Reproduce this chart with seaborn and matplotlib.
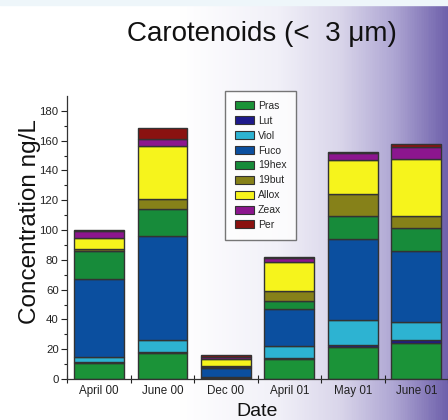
import numpy as np
import pandas as pd
import matplotlib
matplotlib.use("Agg")
import matplotlib.pyplot as plt
import seaborn as sns
from matplotlib.patches import Patch
from matplotlib.colors import LinearSegmentedColormap

dates = ["April 00", "June 00", "Dec 00", "April 01", "May 01", "June 01"]
pigments = ["Pras", "Lut", "Viol", "Fuco", "19hex", "19but", "Allox", "Zeax", "Per"]
colors = ["#1b9338", "#1e1a8c", "#2db3d2", "#0b4f9f", "#178b3a", "#868119",
          "#f6f41c", "#8c168e", "#8a1210"]

pras  = [10.5, 17.2, 0.5, 13.2, 21.7, 24.0]
lut   = [1.0, 1.0, 0.3, 1.0, 1.0, 2.5]
viol  = [3.0, 8.0, 0.3, 8.0, 17.0, 12.0]
fuco  = [52.5, 70.0, 6.2, 25.0, 54.0, 47.5]
hex19 = [19.0, 18.0, 1.0, 5.0, 16.0, 15.5]
but19 = [1.0, 6.5, 0.5, 7.0, 14.5, 8.0]
allox = [7.5, 35.5, 4.5, 19.0, 23.0, 38.5]
zeax  = [5.0, 5.0, 1.5, 3.0, 4.5, 8.0]
per   = [0.5, 7.0, 1.0, 0.5, 1.0, 2.0]

series = [pras, lut, viol, fuco, hex19, but19, allox, zeax, per]
rows = []
for p, vals in zip(pigments, series):
    for d, v in zip(dates, vals):
        rows.append({"Date": d, "Pigment": p, "Value": v})
df = pd.DataFrame(rows)

sns.set_style("ticks")
plt.rcParams["font.family"] = ["Liberation Sans", "DejaVu Sans"]

fig = plt.figure(figsize=(4.48, 4.20), dpi=100)

# background gradient
bg = fig.add_axes([0, 0, 1, 1], zorder=-10)
cmap = LinearSegmentedColormap.from_list(
    "bg", [(0.0, "#ffffff"), (0.4, "#ffffff"), (0.62, "#f1f0f8"),
           (0.76, "#d9d5ea"), (0.88, "#aea6d3"), (1.0, "#6e60ab")])
grad = np.linspace(0, 1, 448).reshape(1, -1)
bg.imshow(grad, aspect="auto", cmap=cmap, extent=[0, 1, 0, 1])
bg.axhspan(0.988, 1.0, color="#eef6fa", zorder=5)
bg.set_xlim(0, 1)
bg.set_ylim(0, 1)
bg.axis("off")

ax = fig.add_axes([0.1496, 0.0976, 0.8504, 0.674])
ax.set_facecolor("none")

sns.histplot(data=df, x="Date", hue="Pigment", weights="Value",
             hue_order=pigments[::-1], palette=dict(zip(pigments, colors)),
             multiple="stack", discrete=True, shrink=0.78, alpha=1,
             edgecolor="#333333", linewidth=1.0, legend=False, ax=ax)

ax.set_xlim(-0.5, 5.42)
ax.set_ylim(0, 190)
ax.set_yticks(np.arange(0, 181, 20))
ax.set_yticks(np.arange(0, 190, 10), minor=True)
ax.tick_params(axis="y", which="major", direction="out", length=4, width=0.8,
               labelsize=8.2, colors="#222222", pad=2)
ax.tick_params(axis="y", which="minor", direction="out", length=2.5, width=0.8,
               colors="#222222")
ax.set_xticks(range(len(dates)))
ax.set_xticklabels(dates)
ax.set_xticks(np.arange(-0.5, 6, 1), minor=True)
ax.tick_params(axis="x", which="major", length=0, labelsize=8.4, pad=4,
               colors="#222222")
ax.tick_params(axis="x", which="minor", direction="inout", length=6, width=0.8,
               colors="#222222")
for s in ["top", "right"]:
    ax.spines[s].set_visible(False)
for s in ["left", "bottom"]:
    ax.spines[s].set_color("#333333")
    ax.spines[s].set_linewidth(0.9)

ax.set_ylabel("Concentration ng/L", fontsize=17.5, color="#111111")
ax.yaxis.set_label_coords(-0.068, 0.555)
ax.set_xlabel("Date", fontsize=14, color="#111111")
ax.xaxis.set_label_coords(0.5, -0.086)

fig.text(0.585, 0.92, "Carotenoids (<  3 \u03bcm)", ha="center", va="center",
         fontsize=20, color="#111111")

handles = [Patch(facecolor=c, edgecolor="#333333", linewidth=0.8, label=p)
           for p, c in zip(pigments, colors)]
leg = fig.legend(handles=handles, loc="upper left",
                 bbox_to_anchor=(225 / 448, 1 - 91 / 420),
                 fontsize=7.5, frameon=True, fancybox=False,
                 handlelength=1.8, handleheight=0.8, handletextpad=0.4,
                 labelspacing=0.47, borderpad=0.95, borderaxespad=0)
leg.get_frame().set_edgecolor("#555555")
leg.get_frame().set_linewidth(1.0)
leg.get_frame().set_facecolor("white")

fig.savefig("out.png", dpi=100)
